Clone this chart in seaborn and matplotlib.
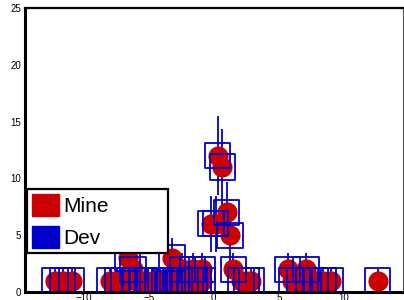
import numpy as np
import pandas as pd
import matplotlib
matplotlib.use("Agg")
import matplotlib.pyplot as plt
from matplotlib.patches import Patch
from matplotlib.ticker import MultipleLocator
import seaborn as sns

# values (bin centre, entries)
x_vals = [-12.2, -11.6, -10.9,
          -8.0, -7.4, -6.9, -6.0, -5.5, -5.1, -4.7, -4.3, -3.8, -3.4,
          -2.9, -2.6, -2.2, -1.8, -1.5, -1.2, -0.9,
          2.1, 2.5, 2.9,
          6.0, 6.6, 7.3, 7.8, 8.4, 9.0,
          12.6,
          -6.2, -2.4, -1.6, -0.9, 1.5, 5.7, 7.1,
          -6.6, -3.2,
          1.25, -0.2, 0.15, 1.0, 0.65, 0.3]
y_vals = [1, 1, 1,
          1, 1, 1, 1, 1, 1, 1, 1, 1, 1,
          1, 1, 1, 1, 1, 1, 1,
          1, 1, 1,
          1, 1, 1, 1, 1, 1,
          1,
          2, 2, 2, 2, 2, 2, 2,
          3, 3,
          5, 6, 6, 7, 11, 12]
series_names = ["Mine", "Dev"]
y_ticks = [0, 5, 10, 15, 20, 25]
x_ticks = [-10, -5, 0, 5, 10]

df = pd.DataFrame({"x": x_vals, "y": y_vals})
df["err"] = np.sqrt(df["y"])

red = "#cc0000"
blue = "#0000cc"

sns.set_style("white")
plt.rcParams["font.family"] = ["Liberation Sans", "DejaVu Sans"]
plt.rcParams["text.color"] = "black"
plt.rcParams["xtick.labelcolor"] = "black"
plt.rcParams["ytick.labelcolor"] = "black"

fig = plt.figure(figsize=(4.04, 3.0), dpi=100)
ax = fig.add_axes([25 / 404, 8 / 300, 378 / 404, 284 / 300])

# Dev error bars, then Mine circles, then Dev open squares on top
ax.errorbar(df["x"], df["y"], yerr=df["err"], fmt="none", ecolor=blue,
            elinewidth=1.3, capsize=0, zorder=2)
sns.scatterplot(data=df, x="x", y="y", ax=ax, color=red, marker="o",
                s=210, linewidth=0, zorder=3, legend=False)
sns.scatterplot(data=df, x="x", y="y", ax=ax, marker="s", s=330,
                facecolors="none", edgecolors=blue, linewidth=1.3,
                zorder=4, legend=False)

ax.set_xlim(-14.5, 14.55)
ax.set_ylim(0, 25)
ax.set_xlabel("")
ax.set_ylabel("")
ax.set_xticks(x_ticks)
ax.set_yticks(y_ticks)
ax.xaxis.set_minor_locator(MultipleLocator(1))
ax.yaxis.set_minor_locator(MultipleLocator(1))
ax.tick_params(axis="both", which="both", direction="in", labelsize=7,
               top=False, right=False, color="black", labelcolor="black")
ax.tick_params(axis="y", which="major", length=11, width=2, pad=3)
ax.tick_params(axis="y", which="minor", length=5, width=2)
ax.tick_params(axis="x", which="major", length=8, width=2, pad=0.5)
ax.tick_params(axis="x", which="minor", length=4, width=2)

for side in ["left", "bottom"]:
    ax.spines[side].set_linewidth(2.2)
    ax.spines[side].set_color("black")
ax.spines["top"].set_linewidth(1.6)
ax.spines["top"].set_color("black")
ax.spines["right"].set_linewidth(0.8)
ax.spines["right"].set_color("#555555")

handles = [Patch(facecolor=red, edgecolor=red, label=series_names[0]),
           Patch(facecolor=blue, edgecolor=blue, label=series_names[1])]
leg = ax.legend(handles=handles, loc="lower left", mode="expand",
                bbox_to_anchor=(27 / 404, 47 / 300, 141 / 404, 75 / 300),
                bbox_transform=fig.transFigure, fontsize=15,
                handlelength=1.3, handleheight=1.25, handletextpad=0.2,
                labelspacing=0.45, borderpad=0.25, borderaxespad=0,
                fancybox=False, framealpha=1, edgecolor="black")
leg.get_frame().set_linewidth(1.6)
leg.set_zorder(10)
for t in leg.get_texts():
    t.set_color("black")

fig.savefig("out.png", dpi=100)
